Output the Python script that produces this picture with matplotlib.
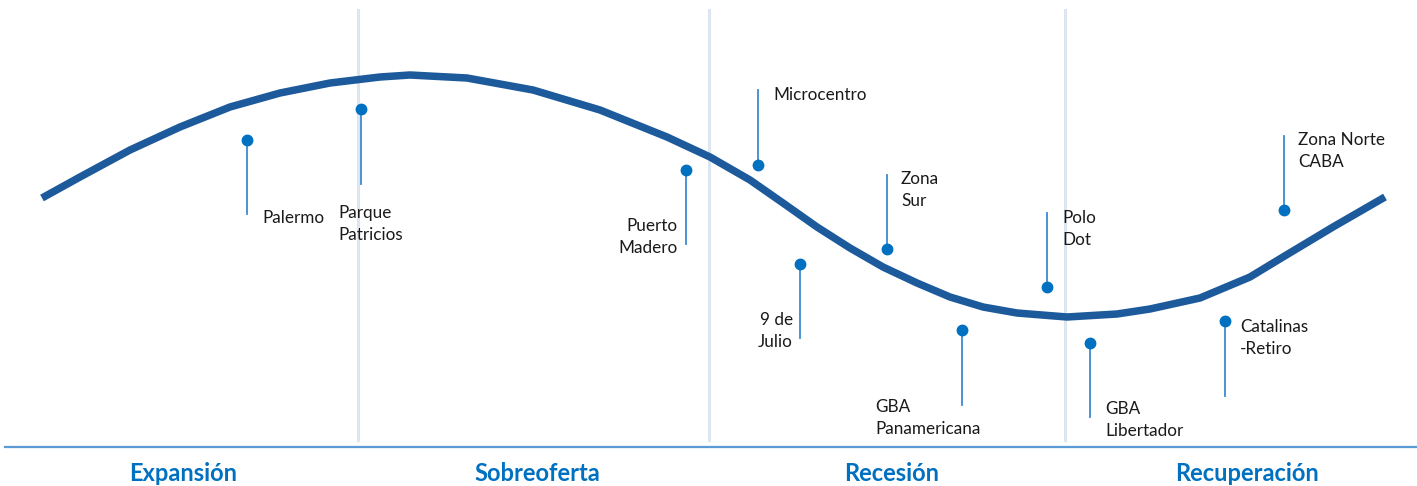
import matplotlib.pyplot as plt

plt.rcParams['font.family'] = ['Lato', 'DejaVu Sans']

curve_x = [42, 80, 130, 180, 230, 280, 330, 380, 410, 467, 533, 600, 667, 710, 750, 783, 817, 850,
           883, 917, 950, 983, 1017, 1067, 1117, 1150, 1200, 1250, 1283, 1333, 1385]
curve_y = [198, 177, 150, 127, 107, 93, 83, 77, 75, 78, 90, 110, 137, 157, 180, 203, 227, 248,
           267, 283, 297, 307, 313, 317, 314, 309, 298, 277, 257, 227, 197]

# zonas: nombre, punto, fin del palito, posicion del texto
zonas = ["Palermo", "Parque\nPatricios", "Puerto\nMadero", "Microcentro", "9 de\nJulio", "Zona\nSur",
         "GBA\nPanamericana", "Polo\nDot", "GBA\nLibertador", "Catalinas\n-Retiro", "Zona Norte\nCABA"]
dot_x = [247, 361, 686, 758, 800, 887, 962, 1047, 1090, 1225, 1284]
dot_y = [140, 109, 170, 165, 264, 249, 330, 287, 343, 321, 210]
stem_y = [214, 184, 244, 90, 338, 175, 405, 213, 417, 396, 136]
txt_x = [262, 338, 678, 773, 793, 901, 875, 1062, 1105, 1240, 1298]
txt_y = [218, 224, 237, 95, 331, 190, 418, 229, 420, 338, 151]
txt_ha = ["left", "left", "right", "left", "right", "left", "left", "left", "left", "left", "left"]

fases = ["Expansión", "Sobreoferta", "Recesión", "Recuperación"]
fase_x = [183, 537, 892, 1247]
divisiones = [358, 709, 1065]

fig = plt.figure(figsize=(14.17, 4.86), dpi=100)
ax = fig.add_axes([0, 0, 1, 1])
ax.set_xlim(0, 1417)
ax.set_ylim(486, 0)
ax.axis('off')

for d in divisiones:
    ax.plot([d, d], [10, 440], color='#dce5f0', lw=2.2, zorder=1)
ax.plot([5, 1417], [447, 447], color='#5b9bd5', lw=1.6, zorder=1)

ax.plot(curve_x, curve_y, color='#1c5a9c', lw=5.4, solid_capstyle='butt', solid_joinstyle='round', zorder=3)

for i in range(len(zonas)):
    ax.plot([dot_x[i], dot_x[i]], [dot_y[i], stem_y[i]], color='#3a8ad3', lw=1.3, zorder=4)
    ax.plot(dot_x[i], dot_y[i], 'o', color='#0070c0', ms=7.5, zorder=5)
    ax.text(txt_x[i], txt_y[i], zonas[i], ha=txt_ha[i], va='center', fontsize=12.3,
            color='#1a1a1a', linespacing=1.45, zorder=6)

for f, x in zip(fases, fase_x):
    ax.text(x, 473, f, ha='center', va='center', fontsize=17, fontweight='bold', color='#0070c0')

plt.savefig("out.png", dpi=100)
